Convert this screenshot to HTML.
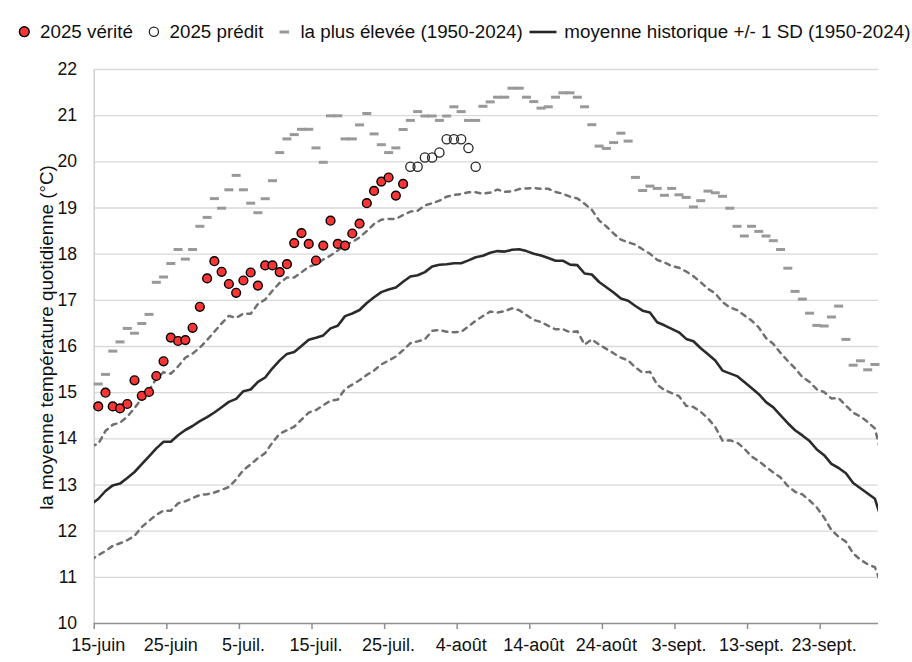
<!DOCTYPE html>
<html><head><meta charset="utf-8"><style>
html,body{margin:0;padding:0;background:#fff;}
body{width:912px;height:662px;overflow:hidden;}
svg{display:block;}
text{font-family:"Liberation Sans",sans-serif;fill:#111;}
</style></head><body>
<svg width="912" height="662" viewBox="0 0 912 662">
<defs><clipPath id="pc"><rect x="94" y="60" width="784" height="563.3"/></clipPath></defs>

<line x1="94" x2="878" y1="69.50" y2="69.50" stroke="#d9d9d9" stroke-width="1.3"/>
<line x1="94" x2="878" y1="115.67" y2="115.67" stroke="#d9d9d9" stroke-width="1.3"/>
<line x1="94" x2="878" y1="161.84" y2="161.84" stroke="#d9d9d9" stroke-width="1.3"/>
<line x1="94" x2="878" y1="208.01" y2="208.01" stroke="#d9d9d9" stroke-width="1.3"/>
<line x1="94" x2="878" y1="254.18" y2="254.18" stroke="#d9d9d9" stroke-width="1.3"/>
<line x1="94" x2="878" y1="300.35" y2="300.35" stroke="#d9d9d9" stroke-width="1.3"/>
<line x1="94" x2="878" y1="346.52" y2="346.52" stroke="#d9d9d9" stroke-width="1.3"/>
<line x1="94" x2="878" y1="392.69" y2="392.69" stroke="#d9d9d9" stroke-width="1.3"/>
<line x1="94" x2="878" y1="438.86" y2="438.86" stroke="#d9d9d9" stroke-width="1.3"/>
<line x1="94" x2="878" y1="485.03" y2="485.03" stroke="#d9d9d9" stroke-width="1.3"/>
<line x1="94" x2="878" y1="531.20" y2="531.20" stroke="#d9d9d9" stroke-width="1.3"/>
<line x1="94" x2="878" y1="577.37" y2="577.37" stroke="#d9d9d9" stroke-width="1.3"/>
<line x1="94.25" x2="94.25" y1="69.50" y2="623.54" stroke="#d0d0d0" stroke-width="1.5"/>
<line x1="93.5" x2="878" y1="623.54" y2="623.54" stroke="#8f8f8f" stroke-width="1.5"/>
<line x1="94.25" x2="94.25" y1="623.54" y2="629.04" stroke="#8f8f8f" stroke-width="1.5"/>
<line x1="166.84" x2="166.84" y1="623.54" y2="629.04" stroke="#8f8f8f" stroke-width="1.5"/>
<line x1="239.43" x2="239.43" y1="623.54" y2="629.04" stroke="#8f8f8f" stroke-width="1.5"/>
<line x1="312.02" x2="312.02" y1="623.54" y2="629.04" stroke="#8f8f8f" stroke-width="1.5"/>
<line x1="384.61" x2="384.61" y1="623.54" y2="629.04" stroke="#8f8f8f" stroke-width="1.5"/>
<line x1="457.20" x2="457.20" y1="623.54" y2="629.04" stroke="#8f8f8f" stroke-width="1.5"/>
<line x1="529.79" x2="529.79" y1="623.54" y2="629.04" stroke="#8f8f8f" stroke-width="1.5"/>
<line x1="602.38" x2="602.38" y1="623.54" y2="629.04" stroke="#8f8f8f" stroke-width="1.5"/>
<line x1="674.97" x2="674.97" y1="623.54" y2="629.04" stroke="#8f8f8f" stroke-width="1.5"/>
<line x1="747.56" x2="747.56" y1="623.54" y2="629.04" stroke="#8f8f8f" stroke-width="1.5"/>
<line x1="820.15" x2="820.15" y1="623.54" y2="629.04" stroke="#8f8f8f" stroke-width="1.5"/>
<text x="77" y="75.10" font-size="17.6" text-anchor="end">22</text>
<text x="77" y="121.27" font-size="17.6" text-anchor="end">21</text>
<text x="77" y="167.44" font-size="17.6" text-anchor="end">20</text>
<text x="77" y="213.61" font-size="17.6" text-anchor="end">19</text>
<text x="77" y="259.78" font-size="17.6" text-anchor="end">18</text>
<text x="77" y="305.95" font-size="17.6" text-anchor="end">17</text>
<text x="77" y="352.12" font-size="17.6" text-anchor="end">16</text>
<text x="77" y="398.29" font-size="17.6" text-anchor="end">15</text>
<text x="77" y="444.46" font-size="17.6" text-anchor="end">14</text>
<text x="77" y="490.63" font-size="17.6" text-anchor="end">13</text>
<text x="77" y="536.80" font-size="17.6" text-anchor="end">12</text>
<text x="77" y="582.97" font-size="17.6" text-anchor="end">11</text>
<text x="77" y="629.14" font-size="17.6" text-anchor="end">10</text>
<text x="98.23" y="651" font-size="18" text-anchor="middle">15-juin</text>
<text x="170.82" y="651" font-size="18" text-anchor="middle">25-juin</text>
<text x="243.41" y="651" font-size="18" text-anchor="middle">5-juil.</text>
<text x="316.00" y="651" font-size="18" text-anchor="middle">15-juil.</text>
<text x="388.59" y="651" font-size="18" text-anchor="middle">25-juil.</text>
<text x="461.18" y="651" font-size="18" text-anchor="middle">4-août</text>
<text x="533.77" y="651" font-size="18" text-anchor="middle">14-août</text>
<text x="606.36" y="651" font-size="18" text-anchor="middle">24-août</text>
<text x="678.95" y="651" font-size="18" text-anchor="middle">3-sept.</text>
<text x="751.54" y="651" font-size="18" text-anchor="middle">13-sept.</text>
<text x="824.13" y="651" font-size="18" text-anchor="middle">23-sept.</text>
<text transform="translate(53.2,337.5) rotate(-90)" font-size="18.8" text-anchor="middle">la moyenne température quotidienne (°C)</text>
<g clip-path="url(#pc)">
<path d="M90.97,446.00 L98.23,444.00 L105.49,430.90 L112.75,424.70 L120.01,422.60 L127.27,416.80 L134.52,408.10 L141.78,398.40 L149.04,390.30 L156.30,378.50 L163.56,372.20 L170.82,373.70 L178.08,366.50 L185.34,357.70 L192.60,353.60 L199.86,347.60 L207.11,340.00 L214.37,331.70 L221.63,323.40 L228.89,315.90 L236.15,317.80 L243.41,313.60 L250.67,313.80 L257.93,303.90 L265.19,299.50 L272.45,290.70 L279.70,282.80 L286.96,277.50 L294.22,277.50 L301.48,272.30 L308.74,266.70 L316.00,264.40 L323.26,259.50 L330.52,255.50 L337.78,250.50 L345.04,245.00 L352.29,242.00 L359.55,237.50 L366.81,231.00 L374.07,224.00 L381.33,219.70 L388.59,219.00 L395.85,218.90 L403.11,215.10 L410.37,211.60 L417.63,210.70 L424.88,205.40 L432.14,203.20 L439.40,200.70 L446.66,196.70 L453.92,194.90 L461.18,194.00 L468.44,192.30 L475.70,192.30 L482.96,193.70 L490.22,192.60 L497.47,189.60 L504.73,191.90 L511.99,191.40 L519.25,189.10 L526.51,188.40 L533.77,187.90 L541.03,188.80 L548.29,188.80 L555.55,191.90 L562.81,193.70 L570.06,196.70 L577.32,198.40 L584.58,203.70 L591.84,209.80 L599.10,220.40 L606.36,226.50 L613.62,233.50 L620.88,239.60 L628.14,242.30 L635.40,244.60 L642.65,249.30 L649.91,253.70 L657.17,259.80 L664.43,262.50 L671.69,266.00 L678.95,267.70 L686.21,271.50 L693.47,276.20 L700.73,282.20 L707.99,288.90 L715.24,293.30 L722.50,302.10 L729.76,307.40 L737.02,310.00 L744.28,315.30 L751.54,320.50 L758.80,327.50 L766.06,338.10 L773.32,343.90 L780.58,353.00 L787.83,361.00 L795.09,368.30 L802.35,377.00 L809.61,382.00 L816.87,389.50 L824.13,392.00 L831.39,398.50 L838.65,398.20 L845.91,405.60 L853.17,412.70 L860.42,416.50 L867.68,422.00 L874.94,428.50 L882.20,458.00" fill="none" stroke="#707070" stroke-width="2.5" stroke-dasharray="4.9,5.4" stroke-linecap="round"/>
<path d="M90.97,560.00 L98.23,555.10 L105.49,551.10 L112.75,545.80 L120.01,543.30 L127.27,540.20 L134.52,535.80 L141.78,527.00 L149.04,520.90 L156.30,514.70 L163.56,510.70 L170.82,510.70 L178.08,503.30 L185.34,501.20 L192.60,498.10 L199.86,495.00 L207.11,494.30 L214.37,492.50 L221.63,489.90 L228.89,487.00 L236.15,479.40 L243.41,470.00 L250.67,464.30 L257.93,458.20 L265.19,453.00 L272.45,442.50 L279.70,433.70 L286.96,430.20 L294.22,426.70 L301.48,419.60 L308.74,412.60 L316.00,410.00 L323.26,405.30 L330.52,400.70 L337.78,399.50 L345.04,389.00 L352.29,384.60 L359.55,380.20 L366.81,374.90 L374.07,370.50 L381.33,364.40 L388.59,360.60 L395.85,356.50 L403.11,350.20 L410.37,343.20 L417.63,341.40 L424.88,339.30 L432.14,330.90 L439.40,330.00 L446.66,331.80 L453.92,332.30 L461.18,331.80 L468.44,326.50 L475.70,320.70 L482.96,316.00 L490.22,311.60 L497.47,312.50 L504.73,311.20 L511.99,308.40 L519.25,310.20 L526.51,315.10 L533.77,320.00 L541.03,322.00 L548.29,325.90 L555.55,329.30 L562.81,329.10 L570.06,332.30 L577.32,331.40 L584.58,344.60 L591.84,339.30 L599.10,344.60 L606.36,348.90 L613.62,353.30 L620.88,357.70 L628.14,360.40 L635.40,367.40 L642.65,372.60 L649.91,371.80 L657.17,384.70 L664.43,390.00 L671.69,393.10 L678.95,396.10 L686.21,405.90 L693.47,407.00 L700.73,411.80 L707.99,418.40 L715.24,426.90 L722.50,440.70 L729.76,440.30 L737.02,442.40 L744.28,448.50 L751.54,456.60 L758.80,461.00 L766.06,467.10 L773.32,472.40 L780.58,477.50 L787.83,486.00 L795.09,491.80 L802.35,494.40 L809.61,500.50 L816.87,507.50 L824.13,517.60 L831.39,530.00 L838.65,536.70 L845.91,541.70 L853.17,553.40 L860.42,559.70 L867.68,564.20 L874.94,567.30 L882.20,587.00" fill="none" stroke="#707070" stroke-width="2.5" stroke-dasharray="4.9,5.4" stroke-linecap="round"/>
<path d="M90.97,504.20 L98.23,499.00 L105.49,491.00 L112.75,485.40 L120.01,483.60 L127.27,478.00 L134.52,472.00 L141.78,464.20 L149.04,456.30 L156.30,448.40 L163.56,441.80 L170.82,441.80 L178.08,435.30 L185.34,430.00 L192.60,426.00 L199.86,421.20 L207.11,417.20 L214.37,412.50 L221.63,407.20 L228.89,401.90 L236.15,398.90 L243.41,391.20 L250.67,389.50 L257.93,381.90 L265.19,377.50 L272.45,368.30 L279.70,360.40 L286.96,353.90 L294.22,352.10 L301.48,346.00 L308.74,339.80 L316.00,337.70 L323.26,335.40 L330.52,328.40 L337.78,325.80 L345.04,316.10 L352.29,313.50 L359.55,310.00 L366.81,303.00 L374.07,297.20 L381.33,292.10 L388.59,289.50 L395.85,287.50 L403.11,281.80 L410.37,276.50 L417.63,275.30 L424.88,272.10 L432.14,266.50 L439.40,264.70 L446.66,264.20 L453.92,263.30 L461.18,263.30 L468.44,260.40 L475.70,257.20 L482.96,255.80 L490.22,252.80 L497.47,251.10 L504.73,251.60 L511.99,249.80 L519.25,249.30 L526.51,251.10 L533.77,253.70 L541.03,255.60 L548.29,258.10 L555.55,260.70 L562.81,260.70 L570.06,264.60 L577.32,265.10 L584.58,273.50 L591.84,274.50 L599.10,282.00 L606.36,287.20 L613.62,292.50 L620.88,298.40 L628.14,300.70 L635.40,306.00 L642.65,310.70 L649.91,312.50 L657.17,322.30 L664.43,325.30 L671.69,328.80 L678.95,332.30 L686.21,338.90 L693.47,341.30 L700.73,348.30 L707.99,354.20 L715.24,360.50 L722.50,370.60 L729.76,373.40 L737.02,376.10 L744.28,382.00 L751.54,388.10 L758.80,394.20 L766.06,402.10 L773.32,407.40 L780.58,415.30 L787.83,423.20 L795.09,430.20 L802.35,435.40 L809.61,441.10 L816.87,449.50 L824.13,455.20 L831.39,463.80 L838.65,468.00 L845.91,473.20 L853.17,483.00 L860.42,488.20 L867.68,493.50 L874.94,498.80 L882.20,521.90" fill="none" stroke="#2b2b2b" stroke-width="2.6" stroke-linejoin="round"/>
</g>
<rect x="93.73" y="382.50" width="9" height="3" fill="#999999"/>
<rect x="100.99" y="372.90" width="9" height="3" fill="#999999"/>
<rect x="108.25" y="349.60" width="9" height="3" fill="#999999"/>
<rect x="115.51" y="340.40" width="9" height="3" fill="#999999"/>
<rect x="122.77" y="326.90" width="9" height="3" fill="#999999"/>
<rect x="130.02" y="331.70" width="9" height="3" fill="#999999"/>
<rect x="137.28" y="322.00" width="9" height="3" fill="#999999"/>
<rect x="144.54" y="312.90" width="9" height="3" fill="#999999"/>
<rect x="151.80" y="280.80" width="9" height="3" fill="#999999"/>
<rect x="159.06" y="275.50" width="9" height="3" fill="#999999"/>
<rect x="166.32" y="262.00" width="9" height="3" fill="#999999"/>
<rect x="173.58" y="248.00" width="9" height="3" fill="#999999"/>
<rect x="180.84" y="257.60" width="9" height="3" fill="#999999"/>
<rect x="188.10" y="248.00" width="9" height="3" fill="#999999"/>
<rect x="195.36" y="224.80" width="9" height="3" fill="#999999"/>
<rect x="202.61" y="215.90" width="9" height="3" fill="#999999"/>
<rect x="209.87" y="197.10" width="9" height="3" fill="#999999"/>
<rect x="217.13" y="206.70" width="9" height="3" fill="#999999"/>
<rect x="224.39" y="188.30" width="9" height="3" fill="#999999"/>
<rect x="231.65" y="173.90" width="9" height="3" fill="#999999"/>
<rect x="238.91" y="188.30" width="9" height="3" fill="#999999"/>
<rect x="246.17" y="201.70" width="9" height="3" fill="#999999"/>
<rect x="253.43" y="211.20" width="9" height="3" fill="#999999"/>
<rect x="260.69" y="197.20" width="9" height="3" fill="#999999"/>
<rect x="267.95" y="179.20" width="9" height="3" fill="#999999"/>
<rect x="275.20" y="151.10" width="9" height="3" fill="#999999"/>
<rect x="282.46" y="137.40" width="9" height="3" fill="#999999"/>
<rect x="289.72" y="133.10" width="9" height="3" fill="#999999"/>
<rect x="296.98" y="127.80" width="9" height="3" fill="#999999"/>
<rect x="304.24" y="127.80" width="9" height="3" fill="#999999"/>
<rect x="311.50" y="146.40" width="9" height="3" fill="#999999"/>
<rect x="318.76" y="160.80" width="9" height="3" fill="#999999"/>
<rect x="326.02" y="114.30" width="9" height="3" fill="#999999"/>
<rect x="333.28" y="114.30" width="9" height="3" fill="#999999"/>
<rect x="340.54" y="137.40" width="9" height="3" fill="#999999"/>
<rect x="347.79" y="137.40" width="9" height="3" fill="#999999"/>
<rect x="355.05" y="123.40" width="9" height="3" fill="#999999"/>
<rect x="362.31" y="112.00" width="9" height="3" fill="#999999"/>
<rect x="369.57" y="132.40" width="9" height="3" fill="#999999"/>
<rect x="376.83" y="143.20" width="9" height="3" fill="#999999"/>
<rect x="384.09" y="151.10" width="9" height="3" fill="#999999"/>
<rect x="391.35" y="146.40" width="9" height="3" fill="#999999"/>
<rect x="398.61" y="128.00" width="9" height="3" fill="#999999"/>
<rect x="405.87" y="118.90" width="9" height="3" fill="#999999"/>
<rect x="413.13" y="110.10" width="9" height="3" fill="#999999"/>
<rect x="420.38" y="114.50" width="9" height="3" fill="#999999"/>
<rect x="427.64" y="114.50" width="9" height="3" fill="#999999"/>
<rect x="434.90" y="118.90" width="9" height="3" fill="#999999"/>
<rect x="442.16" y="114.50" width="9" height="3" fill="#999999"/>
<rect x="449.42" y="105.30" width="9" height="3" fill="#999999"/>
<rect x="456.68" y="110.10" width="9" height="3" fill="#999999"/>
<rect x="463.94" y="118.90" width="9" height="3" fill="#999999"/>
<rect x="471.20" y="118.90" width="9" height="3" fill="#999999"/>
<rect x="478.46" y="104.80" width="9" height="3" fill="#999999"/>
<rect x="485.72" y="100.40" width="9" height="3" fill="#999999"/>
<rect x="492.97" y="95.70" width="9" height="3" fill="#999999"/>
<rect x="500.23" y="95.70" width="9" height="3" fill="#999999"/>
<rect x="507.49" y="86.70" width="9" height="3" fill="#999999"/>
<rect x="514.75" y="86.70" width="9" height="3" fill="#999999"/>
<rect x="522.01" y="95.70" width="9" height="3" fill="#999999"/>
<rect x="529.27" y="100.10" width="9" height="3" fill="#999999"/>
<rect x="536.53" y="106.60" width="9" height="3" fill="#999999"/>
<rect x="543.79" y="105.30" width="9" height="3" fill="#999999"/>
<rect x="551.05" y="95.70" width="9" height="3" fill="#999999"/>
<rect x="558.31" y="91.30" width="9" height="3" fill="#999999"/>
<rect x="565.56" y="91.30" width="9" height="3" fill="#999999"/>
<rect x="572.82" y="95.70" width="9" height="3" fill="#999999"/>
<rect x="580.08" y="105.30" width="9" height="3" fill="#999999"/>
<rect x="587.34" y="123.20" width="9" height="3" fill="#999999"/>
<rect x="594.60" y="144.60" width="9" height="3" fill="#999999"/>
<rect x="601.86" y="146.90" width="9" height="3" fill="#999999"/>
<rect x="609.12" y="141.10" width="9" height="3" fill="#999999"/>
<rect x="616.38" y="131.70" width="9" height="3" fill="#999999"/>
<rect x="623.64" y="139.60" width="9" height="3" fill="#999999"/>
<rect x="630.90" y="175.90" width="9" height="3" fill="#999999"/>
<rect x="638.15" y="189.00" width="9" height="3" fill="#999999"/>
<rect x="645.41" y="184.60" width="9" height="3" fill="#999999"/>
<rect x="652.67" y="186.90" width="9" height="3" fill="#999999"/>
<rect x="659.93" y="193.80" width="9" height="3" fill="#999999"/>
<rect x="667.19" y="186.90" width="9" height="3" fill="#999999"/>
<rect x="674.45" y="193.30" width="9" height="3" fill="#999999"/>
<rect x="681.71" y="195.90" width="9" height="3" fill="#999999"/>
<rect x="688.97" y="205.50" width="9" height="3" fill="#999999"/>
<rect x="696.23" y="199.20" width="9" height="3" fill="#999999"/>
<rect x="703.49" y="189.60" width="9" height="3" fill="#999999"/>
<rect x="710.74" y="191.30" width="9" height="3" fill="#999999"/>
<rect x="718.00" y="194.80" width="9" height="3" fill="#999999"/>
<rect x="725.26" y="206.70" width="9" height="3" fill="#999999"/>
<rect x="732.52" y="224.80" width="9" height="3" fill="#999999"/>
<rect x="739.78" y="234.50" width="9" height="3" fill="#999999"/>
<rect x="747.04" y="224.80" width="9" height="3" fill="#999999"/>
<rect x="754.30" y="229.90" width="9" height="3" fill="#999999"/>
<rect x="761.56" y="234.50" width="9" height="3" fill="#999999"/>
<rect x="768.82" y="239.20" width="9" height="3" fill="#999999"/>
<rect x="776.08" y="248.00" width="9" height="3" fill="#999999"/>
<rect x="783.33" y="266.70" width="9" height="3" fill="#999999"/>
<rect x="790.59" y="289.90" width="9" height="3" fill="#999999"/>
<rect x="797.85" y="297.60" width="9" height="3" fill="#999999"/>
<rect x="805.11" y="311.70" width="9" height="3" fill="#999999"/>
<rect x="812.37" y="323.90" width="9" height="3" fill="#999999"/>
<rect x="819.63" y="324.50" width="9" height="3" fill="#999999"/>
<rect x="826.89" y="315.50" width="9" height="3" fill="#999999"/>
<rect x="834.15" y="304.60" width="9" height="3" fill="#999999"/>
<rect x="841.41" y="337.90" width="9" height="3" fill="#999999"/>
<rect x="848.67" y="363.70" width="9" height="3" fill="#999999"/>
<rect x="855.92" y="359.30" width="9" height="3" fill="#999999"/>
<rect x="863.18" y="368.30" width="9" height="3" fill="#999999"/>
<rect x="870.44" y="363.00" width="9" height="3" fill="#999999"/>
<circle cx="410.37" cy="166.80" r="4.6" fill="none" stroke="#262626" stroke-width="1.3"/>
<circle cx="417.63" cy="166.80" r="4.6" fill="none" stroke="#262626" stroke-width="1.3"/>
<circle cx="424.88" cy="157.50" r="4.6" fill="none" stroke="#262626" stroke-width="1.3"/>
<circle cx="432.14" cy="157.50" r="4.6" fill="none" stroke="#262626" stroke-width="1.3"/>
<circle cx="439.40" cy="152.50" r="4.6" fill="none" stroke="#262626" stroke-width="1.3"/>
<circle cx="446.66" cy="139.30" r="4.6" fill="none" stroke="#262626" stroke-width="1.3"/>
<circle cx="453.92" cy="139.30" r="4.6" fill="none" stroke="#262626" stroke-width="1.3"/>
<circle cx="461.18" cy="139.30" r="4.6" fill="none" stroke="#262626" stroke-width="1.3"/>
<circle cx="468.44" cy="148.10" r="4.6" fill="none" stroke="#262626" stroke-width="1.3"/>
<circle cx="475.70" cy="166.80" r="4.6" fill="none" stroke="#262626" stroke-width="1.3"/>
<circle cx="98.23" cy="406.40" r="4.4" fill="#fa3535" stroke="#000" stroke-width="1.4"/>
<circle cx="105.49" cy="392.70" r="4.4" fill="#fa3535" stroke="#000" stroke-width="1.4"/>
<circle cx="112.75" cy="406.40" r="4.4" fill="#fa3535" stroke="#000" stroke-width="1.4"/>
<circle cx="120.01" cy="408.40" r="4.4" fill="#fa3535" stroke="#000" stroke-width="1.4"/>
<circle cx="127.27" cy="404.00" r="4.4" fill="#fa3535" stroke="#000" stroke-width="1.4"/>
<circle cx="134.52" cy="380.30" r="4.4" fill="#fa3535" stroke="#000" stroke-width="1.4"/>
<circle cx="141.78" cy="395.80" r="4.4" fill="#fa3535" stroke="#000" stroke-width="1.4"/>
<circle cx="149.04" cy="392.00" r="4.4" fill="#fa3535" stroke="#000" stroke-width="1.4"/>
<circle cx="156.30" cy="376.00" r="4.4" fill="#fa3535" stroke="#000" stroke-width="1.4"/>
<circle cx="163.56" cy="361.30" r="4.4" fill="#fa3535" stroke="#000" stroke-width="1.4"/>
<circle cx="170.82" cy="337.60" r="4.4" fill="#fa3535" stroke="#000" stroke-width="1.4"/>
<circle cx="178.08" cy="341.00" r="4.4" fill="#fa3535" stroke="#000" stroke-width="1.4"/>
<circle cx="185.34" cy="340.10" r="4.4" fill="#fa3535" stroke="#000" stroke-width="1.4"/>
<circle cx="192.60" cy="327.80" r="4.4" fill="#fa3535" stroke="#000" stroke-width="1.4"/>
<circle cx="199.86" cy="306.80" r="4.4" fill="#fa3535" stroke="#000" stroke-width="1.4"/>
<circle cx="207.11" cy="278.40" r="4.4" fill="#fa3535" stroke="#000" stroke-width="1.4"/>
<circle cx="214.37" cy="261.20" r="4.4" fill="#fa3535" stroke="#000" stroke-width="1.4"/>
<circle cx="221.63" cy="271.80" r="4.4" fill="#fa3535" stroke="#000" stroke-width="1.4"/>
<circle cx="228.89" cy="284.00" r="4.4" fill="#fa3535" stroke="#000" stroke-width="1.4"/>
<circle cx="236.15" cy="292.80" r="4.4" fill="#fa3535" stroke="#000" stroke-width="1.4"/>
<circle cx="243.41" cy="280.50" r="4.4" fill="#fa3535" stroke="#000" stroke-width="1.4"/>
<circle cx="250.67" cy="272.50" r="4.4" fill="#fa3535" stroke="#000" stroke-width="1.4"/>
<circle cx="257.93" cy="285.60" r="4.4" fill="#fa3535" stroke="#000" stroke-width="1.4"/>
<circle cx="265.19" cy="265.40" r="4.4" fill="#fa3535" stroke="#000" stroke-width="1.4"/>
<circle cx="272.45" cy="265.40" r="4.4" fill="#fa3535" stroke="#000" stroke-width="1.4"/>
<circle cx="279.70" cy="272.10" r="4.4" fill="#fa3535" stroke="#000" stroke-width="1.4"/>
<circle cx="286.96" cy="264.20" r="4.4" fill="#fa3535" stroke="#000" stroke-width="1.4"/>
<circle cx="294.22" cy="243.10" r="4.4" fill="#fa3535" stroke="#000" stroke-width="1.4"/>
<circle cx="301.48" cy="233.10" r="4.4" fill="#fa3535" stroke="#000" stroke-width="1.4"/>
<circle cx="308.74" cy="243.90" r="4.4" fill="#fa3535" stroke="#000" stroke-width="1.4"/>
<circle cx="316.00" cy="260.50" r="4.4" fill="#fa3535" stroke="#000" stroke-width="1.4"/>
<circle cx="323.26" cy="245.60" r="4.4" fill="#fa3535" stroke="#000" stroke-width="1.4"/>
<circle cx="330.52" cy="220.70" r="4.4" fill="#fa3535" stroke="#000" stroke-width="1.4"/>
<circle cx="337.78" cy="243.90" r="4.4" fill="#fa3535" stroke="#000" stroke-width="1.4"/>
<circle cx="345.04" cy="245.60" r="4.4" fill="#fa3535" stroke="#000" stroke-width="1.4"/>
<circle cx="352.29" cy="233.50" r="4.4" fill="#fa3535" stroke="#000" stroke-width="1.4"/>
<circle cx="359.55" cy="223.70" r="4.4" fill="#fa3535" stroke="#000" stroke-width="1.4"/>
<circle cx="366.81" cy="203.20" r="4.4" fill="#fa3535" stroke="#000" stroke-width="1.4"/>
<circle cx="374.07" cy="190.90" r="4.4" fill="#fa3535" stroke="#000" stroke-width="1.4"/>
<circle cx="381.33" cy="181.60" r="4.4" fill="#fa3535" stroke="#000" stroke-width="1.4"/>
<circle cx="388.59" cy="177.50" r="4.4" fill="#fa3535" stroke="#000" stroke-width="1.4"/>
<circle cx="395.85" cy="195.60" r="4.4" fill="#fa3535" stroke="#000" stroke-width="1.4"/>
<circle cx="403.11" cy="183.90" r="4.4" fill="#fa3535" stroke="#000" stroke-width="1.4"/>
<circle cx="24.3" cy="31.7" r="4.9" fill="#fa3535" stroke="#000" stroke-width="1.4"/>
<text x="40" y="38.3" font-size="18.8">2025 vérité</text>
<circle cx="153.9" cy="31.7" r="4.6" fill="none" stroke="#262626" stroke-width="1.3"/>
<text x="169.5" y="38.3" font-size="18.8">2025 prédit</text>
<rect x="279.5" y="30.5" width="9.6" height="3" fill="#999999"/>
<text x="300.4" y="38.3" font-size="18.8">la plus élevée (1950-2024)</text>
<line x1="529.5" x2="556.5" y1="32" y2="32" stroke="#262626" stroke-width="2.6"/>
<text x="564.3" y="38.3" font-size="18.8">moyenne historique +/- 1 SD (1950-2024)</text>
</svg></body></html>
